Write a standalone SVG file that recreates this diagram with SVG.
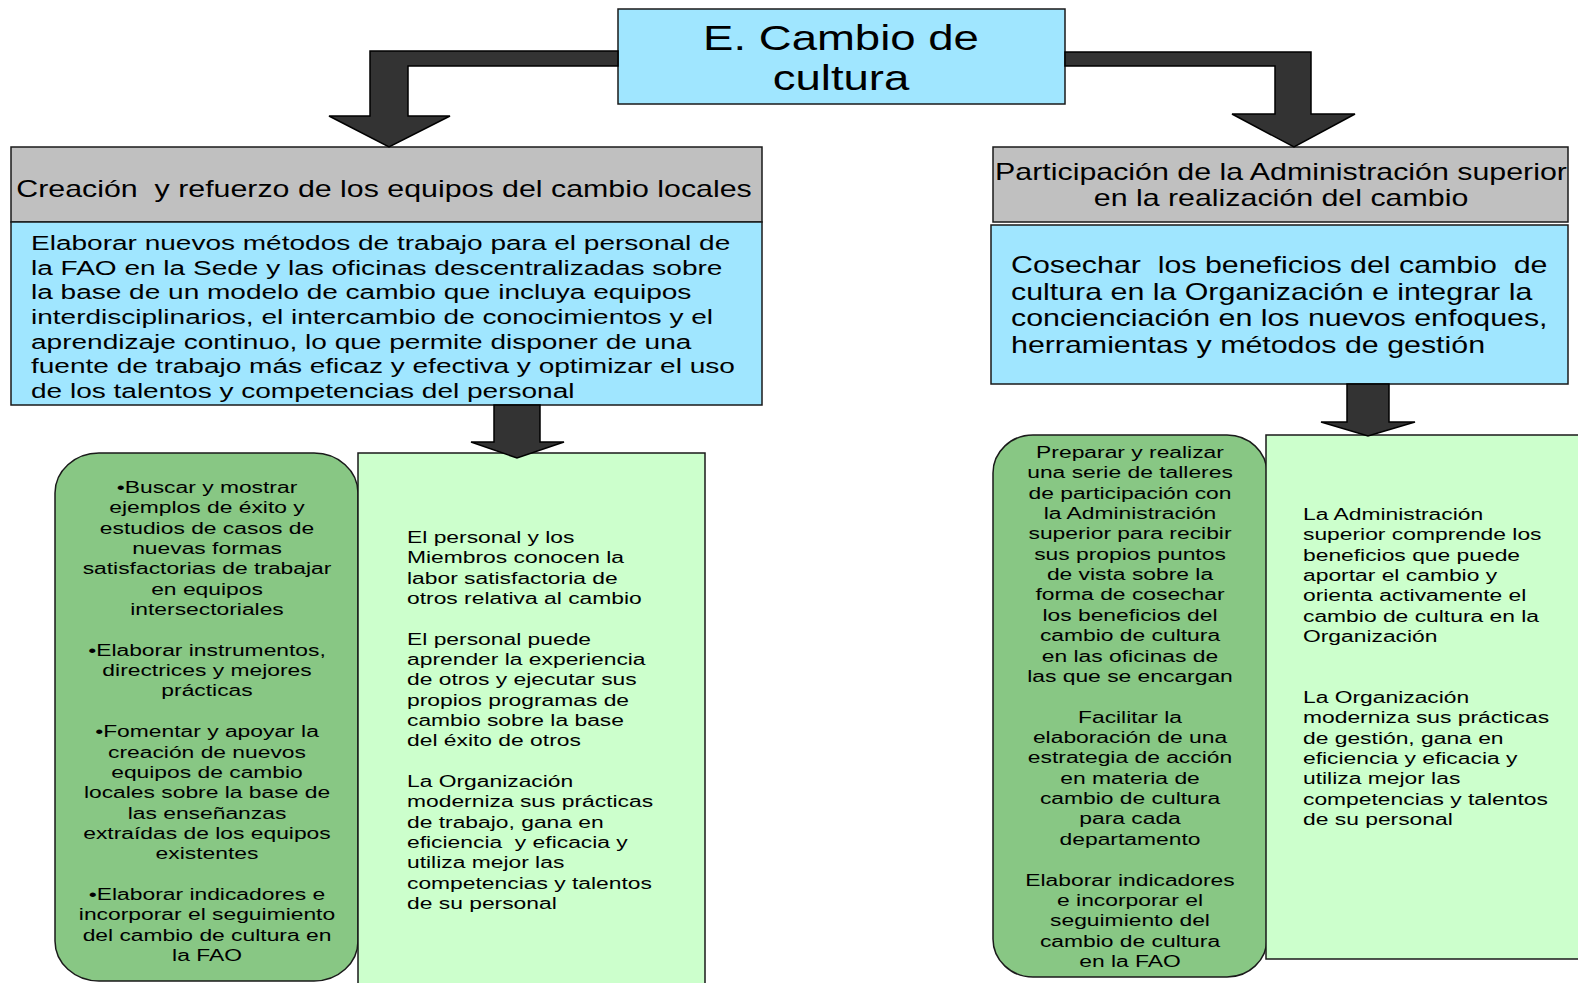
<svg xmlns="http://www.w3.org/2000/svg" width="1578" height="983" viewBox="0 0 1578 983">
<style>
.box{stroke:#1a1a1a;stroke-width:1.5}
.cyan{fill:#A0E6FF}
.gray{fill:#C0C0C0}
.dg{fill:#88C784}
.lg{fill:#CCFFCC}
.arrow{fill:#333333;stroke:#000;stroke-width:1.5;stroke-linejoin:miter}
text{font-family:"Liberation Sans",Arial,sans-serif;fill:#000}
.t34{font-size:34.5px}
.t23{font-size:23px}
.t21{font-size:21px}
.t17{font-size:17.3px}
.mid{text-anchor:middle}
</style>
<rect width="1578" height="983" fill="#fff"/>

<g id="title">
<rect class="box cyan" x="618" y="9" width="447" height="95"/>
<g transform="translate(841,0) scale(1.32,1)">
<text class="t34 mid" x="0" y="50.5">E. Cambio de</text>
<text class="t34 mid" x="0" y="90.5">cultura</text>
</g>
</g>

<g id="left-header">
<rect class="box gray" x="11" y="147" width="751" height="75"/>
<g transform="translate(384,0) scale(1.32,1)">
<text class="t23 mid" x="0" y="197" xml:space="preserve">Creación  y refuerzo de los equipos del cambio locales</text>
</g>
</g>

<g id="left-objective">
<rect class="box cyan" x="11" y="222" width="751" height="183"/>
<g transform="translate(31,0) scale(1.335,1)">
<text class="t21" x="0" y="250">Elaborar nuevos métodos de trabajo para el personal de</text>
<text class="t21" x="0" y="274.7">la FAO en la Sede y las oficinas descentralizadas sobre</text>
<text class="t21" x="0" y="299.3">la base de un modelo de cambio que incluya equipos</text>
<text class="t21" x="0" y="324">interdisciplinarios, el intercambio de conocimientos y el</text>
<text class="t21" x="0" y="348.7">aprendizaje continuo, lo que permite disponer de una</text>
<text class="t21" x="0" y="373.3">fuente de trabajo más eficaz y efectiva y optimizar el uso</text>
<text class="t21" x="0" y="398">de los talentos y competencias del personal</text>
</g>
</g>

<g id="left-actions">
<rect class="box dg" x="55" y="453" width="303" height="528" rx="44" ry="40"/>
<g transform="translate(207,0) scale(1.32,1)">
<text class="t17 mid" x="0" y="493">•Buscar y mostrar</text>
<text class="t17 mid" x="0" y="513.4">ejemplos de éxito y</text>
<text class="t17 mid" x="0" y="533.7">estudios de casos de</text>
<text class="t17 mid" x="0" y="554">nuevas formas</text>
<text class="t17 mid" x="0" y="574.4">satisfactorias de trabajar</text>
<text class="t17 mid" x="0" y="594.8">en equipos</text>
<text class="t17 mid" x="0" y="615.1">intersectoriales</text>
<text class="t17 mid" x="0" y="655.8">•Elaborar instrumentos,</text>
<text class="t17 mid" x="0" y="676.2">directrices y mejores</text>
<text class="t17 mid" x="0" y="696.5">prácticas</text>
<text class="t17 mid" x="0" y="737.2">•Fomentar y apoyar la</text>
<text class="t17 mid" x="0" y="757.6">creación de nuevos</text>
<text class="t17 mid" x="0" y="777.9">equipos de cambio</text>
<text class="t17 mid" x="0" y="798.3">locales sobre la base de</text>
<text class="t17 mid" x="0" y="818.6">las enseñanzas</text>
<text class="t17 mid" x="0" y="839">extraídas de los equipos</text>
<text class="t17 mid" x="0" y="859.3">existentes</text>
<text class="t17 mid" x="0" y="900">•Elaborar indicadores e</text>
<text class="t17 mid" x="0" y="920.4">incorporar el seguimiento</text>
<text class="t17 mid" x="0" y="940.7">del cambio de cultura en</text>
<text class="t17 mid" x="0" y="961">la FAO</text>
</g>
</g>

<g id="left-results">
<rect class="box lg" x="358" y="453" width="347" height="540"/>
<g transform="translate(407,0) scale(1.32,1)">
<text class="t17" x="0" y="543">El personal y los</text>
<text class="t17" x="0" y="563.3">Miembros conocen la</text>
<text class="t17" x="0" y="583.7">labor satisfactoria de</text>
<text class="t17" x="0" y="604">otros relativa al cambio</text>
<text class="t17" x="0" y="644.7">El personal puede</text>
<text class="t17" x="0" y="665">aprender la experiencia</text>
<text class="t17" x="0" y="685.3">de otros y ejecutar sus</text>
<text class="t17" x="0" y="705.7">propios programas de</text>
<text class="t17" x="0" y="726">cambio sobre la base</text>
<text class="t17" x="0" y="746.3">del éxito de otros</text>
<text class="t17" x="0" y="787">La Organización</text>
<text class="t17" x="0" y="807.3">moderniza sus prácticas</text>
<text class="t17" x="0" y="827.7">de trabajo, gana en</text>
<text class="t17" x="0" y="848" xml:space="preserve">eficiencia  y eficacia y</text>
<text class="t17" x="0" y="868.3">utiliza mejor las</text>
<text class="t17" x="0" y="888.7">competencias y talentos</text>
<text class="t17" x="0" y="909">de su personal</text>
</g>
</g>

<g id="right-header">
<rect class="box gray" x="993" y="147" width="575" height="75"/>
<g transform="translate(1281,0) scale(1.32,1)">
<text class="t23 mid" x="0" y="180">Participación de la Administración superior</text>
<text class="t23 mid" x="0" y="206.5">en la realización del cambio</text>
</g>
</g>

<g id="right-objective">
<rect class="box cyan" x="991" y="225" width="577" height="159"/>
<g transform="translate(1011,0) scale(1.32,1)">
<text class="t23" x="0" y="273.5" xml:space="preserve">Cosechar  los beneficios del cambio  de</text>
<text class="t23" x="0" y="300">cultura en la Organización e integrar la</text>
<text class="t23" x="0" y="326.5">concienciación en los nuevos enfoques,</text>
<text class="t23" x="0" y="353">herramientas y métodos de gestión</text>
</g>
</g>

<g id="right-actions">
<rect class="box dg" x="993" y="435" width="274" height="542" rx="40" ry="38"/>
<g transform="translate(1130,0) scale(1.32,1)">
<text class="t17 mid" x="0" y="458">Preparar y realizar</text>
<text class="t17 mid" x="0" y="478.4">una serie de talleres</text>
<text class="t17 mid" x="0" y="498.7">de participación con</text>
<text class="t17 mid" x="0" y="519.1">la Administración</text>
<text class="t17 mid" x="0" y="539.4">superior para recibir</text>
<text class="t17 mid" x="0" y="559.8">sus propios puntos</text>
<text class="t17 mid" x="0" y="580.2">de vista sobre la</text>
<text class="t17 mid" x="0" y="600.5">forma de cosechar</text>
<text class="t17 mid" x="0" y="620.9">los beneficios del</text>
<text class="t17 mid" x="0" y="641.2">cambio de cultura</text>
<text class="t17 mid" x="0" y="661.6">en las oficinas de</text>
<text class="t17 mid" x="0" y="682">las que se encargan</text>
<text class="t17 mid" x="0" y="722.7">Facilitar la</text>
<text class="t17 mid" x="0" y="743">elaboración de una</text>
<text class="t17 mid" x="0" y="763.4">estrategia de acción</text>
<text class="t17 mid" x="0" y="783.8">en materia de</text>
<text class="t17 mid" x="0" y="804.1">cambio de cultura</text>
<text class="t17 mid" x="0" y="824.5">para cada</text>
<text class="t17 mid" x="0" y="844.8">departamento</text>
<text class="t17 mid" x="0" y="885.6">Elaborar indicadores</text>
<text class="t17 mid" x="0" y="905.9">e incorporar el</text>
<text class="t17 mid" x="0" y="926.3">seguimiento del</text>
<text class="t17 mid" x="0" y="946.6">cambio de cultura</text>
<text class="t17 mid" x="0" y="967">en la FAO</text>
</g>
</g>

<g id="right-results">
<rect class="box lg" x="1266" y="435" width="320" height="524"/>
<g transform="translate(1303,0) scale(1.32,1)">
<text class="t17" x="0" y="520">La Administración</text>
<text class="t17" x="0" y="540.3">superior comprende los</text>
<text class="t17" x="0" y="560.7">beneficios que puede</text>
<text class="t17" x="0" y="581">aportar el cambio y</text>
<text class="t17" x="0" y="601.3">orienta activamente el</text>
<text class="t17" x="0" y="621.7">cambio de cultura en la</text>
<text class="t17" x="0" y="642">Organización</text>
<text class="t17" x="0" y="703">La Organización</text>
<text class="t17" x="0" y="723.3">moderniza sus prácticas</text>
<text class="t17" x="0" y="743.7">de gestión, gana en</text>
<text class="t17" x="0" y="764">eficiencia y eficacia y</text>
<text class="t17" x="0" y="784.3">utiliza mejor las</text>
<text class="t17" x="0" y="804.7">competencias y talentos</text>
<text class="t17" x="0" y="825">de su personal</text>
</g>
</g>

<g id="connectors">
<path class="arrow" d="M618,51 L370,51 L370,116 L329,116 L389,147 L450,116 L408,116 L408,66 L618,66 Z"/>
<path class="arrow" d="M1065,52 L1311,52 L1311,114 L1355,114 L1294,147 L1232,114 L1275,114 L1275,66 L1065,66 Z"/>
<path class="arrow" d="M494,405 L540,405 L540,442 L564,442 L517,458 L471,442 L494,442 Z"/>
<path class="arrow" d="M1347,384 L1389,384 L1389,422 L1415,422 L1368,436 L1321,422 L1347,422 Z"/>
</g>
</svg>
